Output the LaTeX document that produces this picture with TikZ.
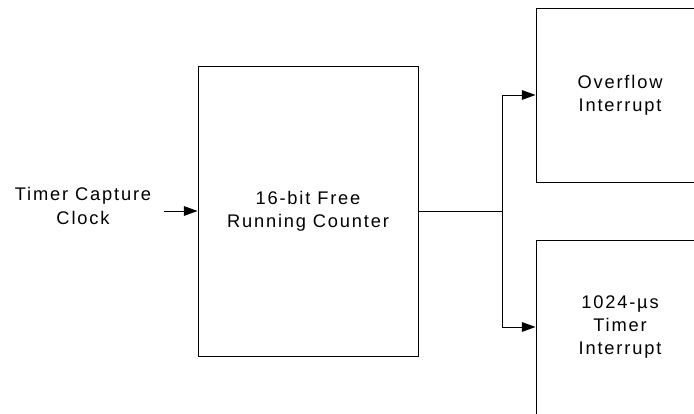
\documentclass[tikz,border=0pt]{standalone}
\usepackage{fontspec}
\setmainfont{Liberation Sans}[LetterSpace=10]
\usetikzlibrary{arrows.meta}
\begin{document}
\begin{tikzpicture}[x=0.025cm,y=-0.025cm,line width=0.7pt,
  block/.style={draw,align=center,inner sep=0pt,font=\fontsize{13}{16.5}\selectfont},
  label/.style={align=center,font=\fontsize{13}{16.5}\selectfont},
  sig/.style={-{Triangle[length=3.4mm,width=2.4mm]}}]
\useasboundingbox (0,0) rectangle (694,413);
\clip (0,0) rectangle (694,413);

\node[label] (clk) at (83,206) {Timer Capture\\Clock};
\node[block,minimum width=220*0.025cm,minimum height=290*0.025cm] (ctr) at (308,211) {16-bit Free\\Running Counter};
\node[block,minimum width=168*0.025cm,minimum height=174*0.025cm] (ovf) at (620,95) {Overflow\\Interrupt};
\node[block,minimum width=168*0.025cm,minimum height=174*0.025cm] (tmr) at (620,327) {1024-µs\\Timer\\Interrupt};

\coordinate (in) at (164,211);
\coordinate (br) at (502,211);

\draw[sig] (in) -- (ctr.west);
\draw (ctr.east) -- (br);
\draw[sig] (br) |- (ovf.west);
\draw[sig] (br) |- (tmr.west);
\end{tikzpicture}
\end{document}
